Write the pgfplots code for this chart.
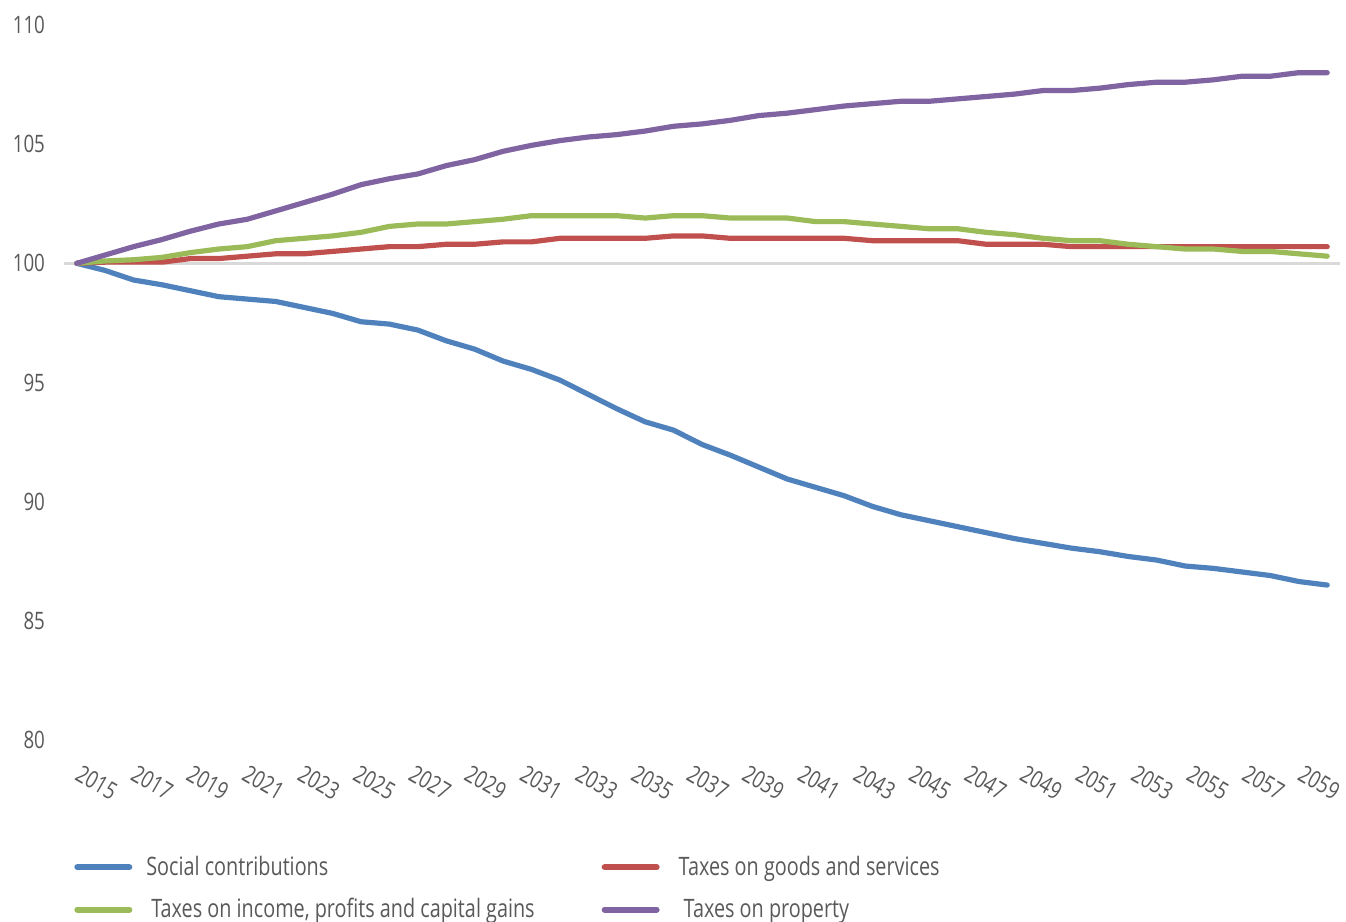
\documentclass[border=0pt]{standalone}
\usepackage{pgfplots}
\pgfplotsset{compat=1.18}
\usepackage{pgfplotstable}
\usepackage{fontspec}
\setmainfont{Open Sans}[FakeStretch=0.78]
\definecolor{txt}{HTML}{595959}
\definecolor{cblue}{HTML}{4F81BD}
\definecolor{cred}{HTML}{C0504D}
\definecolor{cgreen}{HTML}{9BBB59}
\definecolor{cpurple}{HTML}{8064A2}
\definecolor{gline}{HTML}{D9D9D9}
\pgfplotstableread{
year social goods income property
2015 100.0 100.0 100.0 100.0
2016 99.7 100.05 100.1 100.35
2017 99.3 100.05 100.15 100.7
2018 99.1 100.05 100.25 101.0
2019 98.85 100.2 100.45 101.35
2020 98.6 100.2 100.6 101.65
2021 98.5 100.3 100.7 101.85
2022 98.4 100.4 100.95 102.2
2023 98.15 100.4 101.05 102.55
2024 97.9 100.5 101.15 102.9
2025 97.55 100.6 101.3 103.3
2026 97.45 100.7 101.55 103.55
2027 97.2 100.7 101.65 103.75
2028 96.75 100.8 101.65 104.1
2029 96.4 100.8 101.75 104.35
2030 95.9 100.9 101.85 104.7
2031 95.55 100.9 102.0 104.95
2032 95.1 101.05 102.0 105.15
2033 94.5 101.05 102.0 105.3
2034 93.9 101.05 102.0 105.4
2035 93.35 101.05 101.9 105.55
2036 93.0 101.15 102.0 105.75
2037 92.4 101.15 102.0 105.85
2038 91.95 101.05 101.9 106.0
2039 91.45 101.05 101.9 106.2
2040 90.95 101.05 101.9 106.3
2041 90.6 101.05 101.75 106.45
2042 90.25 101.05 101.75 106.6
2043 89.8 100.95 101.65 106.7
2044 89.45 100.95 101.55 106.8
2045 89.2 100.95 101.45 106.8
2046 88.95 100.95 101.45 106.9
2047 88.7 100.8 101.3 107.0
2048 88.45 100.8 101.2 107.1
2049 88.25 100.8 101.05 107.25
2050 88.05 100.7 100.95 107.25
2051 87.9 100.7 100.95 107.35
2052 87.7 100.7 100.8 107.5
2053 87.55 100.7 100.7 107.6
2054 87.3 100.7 100.6 107.6
2055 87.2 100.7 100.6 107.7
2056 87.05 100.7 100.5 107.85
2057 86.9 100.7 100.5 107.85
2058 86.65 100.7 100.4 108.0
2059 86.5 100.7 100.3 108.0
}\datatable
\begin{document}
\begin{tikzpicture}
\begin{axis}[
  at={(0,0)}, anchor=south west,
  scale only axis, width=638pt, height=357.5pt,
  xmin=2014.55, xmax=2059.45, ymin=80, ymax=110,
  xtick={2015,2016.955,2018.911,2020.866,2022.821,2024.777,2026.732,2028.687,2030.642,2032.598,2034.553,2036.508,2038.464,2040.419,2042.374,2044.330,2046.285,2048.240,2050.195,2052.151,2054.106,2056.061,2058.017},
  xticklabels={2015,2017,2019,2021,2023,2025,2027,2029,2031,2033,2035,2037,2039,2041,2043,2045,2047,2049,2051,2053,2055,2057,2059},
  ytick={80,85,...,110},
  extra y ticks={100}, extra y tick labels={},
  extra y tick style={grid=major, major grid style={gline, line width=1.5pt}},
  axis line style={draw=none}, tick style={draw=none},
  /pgf/number format/assume math mode=true,
  /pgf/number format/1000 sep={},
  ticklabel style={font=\fontsize{12}{14}\selectfont, text=txt},
  yticklabel style={xshift=-6pt},
  xticklabel style={rotate=-30, anchor=north west, xshift=5pt, yshift=-5.5pt},
  legend columns=2,
  legend cell align=left,
  legend style={draw=none, fill=none, inner sep=0pt, at={(0.0078,-0.1562)}, anchor=north west,
    font=\fontsize{12.7}{15}\selectfont, text=txt, row sep=6pt,
    /tikz/column 1/.style={column sep=5pt},
    /tikz/column 2/.style={column sep=31.5pt},
    /tikz/column 3/.style={column sep=7.5pt}},
  legend image code/.code={\draw[#1, line width=3pt, line cap=round] (0pt,0pt) -- (26pt,0pt);},
  every axis plot/.append style={line width=2.6pt, line join=round, line cap=round},
]
\addplot[cblue] table[x=year, y=social] {\datatable};
\addlegendentry{Social contributions}
\addplot[cred] table[x=year, y=goods] {\datatable};
\addlegendentry{Taxes on goods and services}
\addplot[cgreen] table[x=year, y=income] {\datatable};
\addlegendentry{\hspace{2.5pt}Taxes on income, profits and capital gains}
\addplot[cpurple] table[x=year, y=property] {\datatable};
\addlegendentry{\hspace{2.5pt}Taxes on property}
\end{axis}
\pgfresetboundingbox
\useasboundingbox (-32pt,-91pt) rectangle (641pt,370pt);
\end{tikzpicture}
\end{document}
